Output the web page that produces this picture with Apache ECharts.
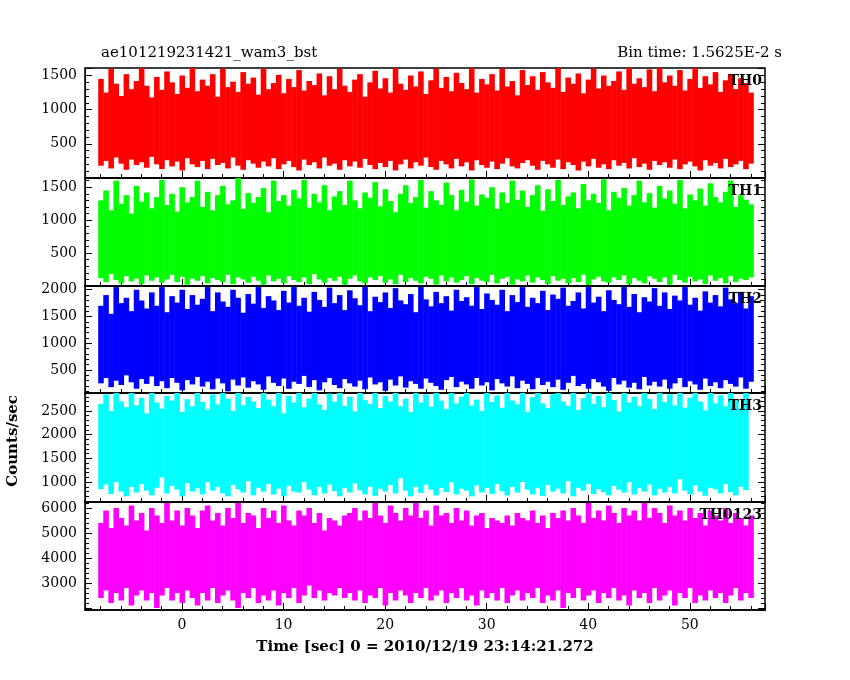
<!DOCTYPE html>
<html><head><meta charset="utf-8">
<script src="https://cdn.jsdelivr.net/npm/echarts@6/dist/echarts.min.js"></script>
<style>body{margin:0;background:#fff}#c{width:850px;height:680px}</style>
</head><body><div id="c"></div>
<script>
// 0.5 s bins from -8 to 56 s: low and high envelope of the counts
var t0 = -8, dt = 0.5;
var names = ['TH0', 'TH1', 'TH2', 'TH3', 'TH0123'];
var colors = ['#ff0000', '#00ff00', '#0000ff', '#00ffff', '#ff00ff'];
var th0Hi = [1450,1250,1600,1380,1200,1520,1300,1420,1610,1350,1180,1480,1290,1560,1400,1230,1500,1320,1610,1270,1440,1350,1520,1190,1600,1330,1410,1260,1550,1380,1470,1220,1600,1300,1390,1510,1240,1450,1330,1580,1280,1420,1360,1530,1210,1490,1300,1600,1350,1260,1440,1520,1190,1400,1570,1310,1460,1250,1610,1380,1290,1500,1340,1560,1230,1430,1600,1320,1480,1270,1540,1390,1300,1610,1250,1450,1370,1520,1280,1600,1340,1420,1210,1580,1360,1490,1290,1550,1400,1320,1610,1260,1470,1380,1530,1240,1440,1600,1310,1500,1350,1420,1560,1290,1610,1380,1460,1330,1590,1270,1610,1400,1500,1350,1580,1280,1450,1610,1320,1490,1370,1550,1260,1430,1520,1300,1460,1390,1250];
var th0Lo = [180,250,140,300,210,120,270,190,230,150,310,200,130,260,170,240,110,290,200,160,250,130,280,190,220,140,300,180,120,260,210,150,240,170,290,130,200,250,160,110,270,190,230,140,300,180,210,120,260,170,240,150,280,190,130,220,160,250,110,200,270,140,230,180,300,160,120,250,200,140,280,170,230,110,260,190,150,240,130,210,290,170,140,220,260,180,120,250,200,150,270,130,230,190,110,240,170,280,150,200,130,260,180,220,140,290,160,210,120,250,190,230,150,270,130,200,240,170,110,260,180,220,140,280,160,200,250,130,210];
var th1Hi = [1300,1450,1150,1600,1250,1380,1100,1520,1280,1420,1180,1350,1610,1230,1400,1130,1500,1270,1350,1600,1200,1430,1150,1380,1520,1240,1300,1640,1170,1410,1260,1350,1490,1120,1600,1290,1380,1220,1460,1330,1610,1190,1400,1270,1530,1150,1360,1440,1230,1600,1300,1180,1420,1340,1580,1210,1470,1290,1120,1400,1530,1260,1350,1610,1190,1440,1300,1230,1570,1380,1150,1460,1280,1620,1220,1390,1340,1500,1170,1420,1260,1600,1310,1450,1200,1380,1530,1140,1470,1290,1610,1230,1360,1420,1180,1550,1300,1400,1260,1620,1150,1430,1340,1490,1220,1380,1600,1270,1410,1190,1520,1330,1450,1250,1610,1180,1390,1300,1480,1220,1560,1350,1270,1430,1600,1200,1380,1310,1240];
var th1Lo = [120,60,180,90,40,150,70,110,30,160,80,130,50,100,170,60,140,20,110,80,150,40,120,90,60,170,30,130,100,50,140,80,20,160,70,110,40,150,90,60,130,30,180,100,50,120,80,140,20,110,160,70,40,130,90,150,50,100,30,170,60,120,80,40,140,110,20,160,70,130,50,90,150,30,120,80,60,170,40,110,140,20,100,70,160,50,130,90,30,150,80,110,40,120,60,170,20,100,140,70,50,130,90,160,30,120,80,40,150,110,60,130,20,170,90,50,140,70,100,30,160,80,120,40,150,60,110,90,130];
var th2Hi = [1700,1900,1550,2050,1750,1850,1600,2000,1800,1650,1950,1700,2050,1580,1880,1760,2000,1640,1900,1720,1830,2050,1600,1950,1780,1680,2000,1850,1570,1920,1740,2050,1660,1880,1800,1620,1980,1760,2050,1700,1850,1590,1960,1810,1680,2040,1750,1900,1620,1990,1840,1710,2050,1600,1870,1770,1950,1660,2030,1800,1730,1920,1580,2050,1820,1690,1960,1750,1880,1610,2000,1790,1860,1700,2050,1640,1930,1810,1720,2000,1600,1900,1770,2050,1680,1850,1750,1980,1620,1910,1830,2040,1700,1790,1950,1650,2050,1760,1870,1600,1990,1810,1730,2050,1680,1920,1580,1860,1780,2030,1700,1950,1640,1890,1800,2050,1720,1850,1610,1970,1760,1900,1690,2040,1820,1750,1960,1650,1880];
var th2Lo = [250,350,180,300,220,400,270,150,330,240,380,200,290,160,350,260,120,310,230,370,190,280,140,340,250,100,320,210,360,170,290,230,130,380,260,200,340,150,280,240,390,180,310,120,270,350,220,160,330,250,190,300,140,360,230,270,110,320,210,380,170,290,240,150,340,260,200,130,310,370,180,280,230,150,350,210,270,120,330,250,190,380,160,300,240,140,350,220,280,180,320,130,260,390,200,240,150,330,270,190,110,350,230,300,170,260,140,370,210,280,190,320,150,250,350,180,290,230,130,340,200,270,160,310,240,190,360,150,280];
var th3Hi = [2650,2850,2500,2880,2700,2580,2880,2620,2780,2450,2880,2680,2550,2820,2720,2880,2480,2750,2600,2880,2690,2530,2850,2640,2880,2760,2500,2880,2620,2800,2700,2560,2880,2740,2600,2880,2450,2820,2680,2880,2580,2760,2880,2640,2520,2870,2700,2880,2610,2800,2490,2880,2730,2650,2880,2560,2820,2700,2880,2600,2760,2480,2880,2680,2850,2590,2880,2720,2540,2880,2660,2800,2880,2610,2740,2500,2880,2690,2830,2570,2880,2720,2640,2880,2480,2790,2880,2660,2560,2850,2880,2700,2610,2880,2520,2770,2880,2650,2820,2580,2880,2730,2490,2880,2680,2800,2600,2880,2750,2540,2880,2690,2850,2620,2880,2570,2780,2880,2700,2510,2880,2660,2830,2600,2880,2740,2550,2880,2680];
var th3Lo = [850,950,750,1000,800,700,900,780,960,820,720,880,1100,760,920,840,700,980,800,870,740,1000,820,900,760,700,940,850,780,1020,720,880,800,960,740,860,700,920,800,780,1000,840,720,900,760,950,810,700,880,780,970,830,740,900,710,860,800,940,760,1080,820,700,900,770,950,840,720,880,790,1000,740,860,820,700,930,780,880,750,960,810,720,900,780,1000,840,740,880,710,940,800,860,760,1020,700,880,820,960,750,850,790,720,920,840,780,1000,740,870,800,950,720,860,780,900,760,1060,820,740,930,800,710,880,850,760,960,790,720,900,830];
var th5Hi = [5400,5900,5200,6000,5600,5300,6100,5500,5800,5100,6000,5700,5400,6200,5500,5900,5300,6000,5700,5200,5900,6100,5500,5800,5300,6000,5600,6200,5400,5800,5700,5200,6000,5600,5900,5400,6100,5500,5300,5900,5700,6000,5400,5800,5100,5600,5500,5300,5700,5800,6000,5500,5900,5600,6200,5700,5400,6100,5800,5500,6000,5700,6200,5600,5900,5300,6100,5700,5800,5400,6000,5500,5900,5300,5700,5800,5200,5600,5500,5400,5700,5300,5800,5600,5500,5900,5400,5700,5200,5800,5600,5900,5500,6000,5700,5400,6200,5600,5900,5500,6100,5800,5400,6000,5700,5900,5500,6200,5600,6000,5800,5400,6100,5700,5900,5500,6000,5600,5800,5300,5900,5700,5500,6000,5400,5800,5600,5300,5700];
var th5Lo = [2400,2700,2200,2600,2300,2800,2100,2500,2700,2300,2600,2000,2500,2800,2300,2600,2200,2700,2400,2100,2600,2300,2800,2200,2500,2700,2300,2000,2600,2400,2800,2200,2500,2300,2700,2100,2600,2400,2800,2200,2500,2900,2400,2700,2300,2600,2500,2800,2400,2600,2300,2700,2200,2500,2400,2800,2100,2600,2300,2700,2500,2200,2600,2400,2800,2300,2500,2700,2200,2600,2400,2800,2300,2500,2100,2700,2400,2600,2300,2800,2200,2500,2700,2300,2600,2400,2800,2200,2500,2300,2700,2000,2600,2400,2800,2300,2500,2700,2200,2600,2400,2800,2300,2500,2100,2700,2400,2600,2200,2800,2300,2500,2700,2100,2600,2400,2800,2200,2500,2300,2700,2400,2600,2200,2500,2800,2300,2600,2400];
var his = [th0Hi, th1Hi, th2Hi, th3Hi, th5Hi];
var los = [th0Lo, th1Lo, th2Lo, th3Lo, th5Lo];
var yMin = [0, 0, 70, 580, 1920];
var yMax = [1610, 1640, 2070, 2880, 6240];
var yMinLabel = [500, 500, 500, 1000, 3000];
var tops = [68, 178, 286, 393, 502];
var bottoms = [178, 286, 393, 502, 610];

var font = '"DejaVu Serif"';
var grids = [], xAxes = [], yAxes = [], series = [];
function renderBin(params, api) {
  var x = api.value(0);
  var a = api.coord([x - dt / 2, api.value(2)]);
  var b = api.coord([x + dt / 2, api.value(1)]);
  return {type: 'rect', shape: {x: a[0], y: b[1], width: b[0] - a[0] + 0.5, height: a[1] - b[1]},
    style: {fill: api.visual('color')}};
}
function plain(v) { return String(v); }
var tick = {inside: true, length: 7, lineStyle: {color: '#000'}};
var minor = {show: true, splitNumber: 5, length: 4, lineStyle: {color: '#000'}};
for (var i = 0; i < 5; i++) {
  grids.push({left: 85, right: 85, top: tops[i], height: bottoms[i] - tops[i], show: true, borderColor: '#000', borderWidth: 1.5});
  var last = i === 4;
  xAxes.push({type: 'value', gridIndex: i, min: -9.55, max: 57.4, splitNumber: 7, position: 'bottom',
    axisLine: {onZero: false, lineStyle: {color: '#000', width: 1.5}}, splitLine: {show: false},
    axisTick: tick, minorTick: minor,
    axisLabel: {show: last, color: '#000', fontFamily: font, fontSize: 14, showMinLabel: false, showMaxLabel: false, formatter: plain},
    name: last ? 'Time [sec] 0 = 2010/12/19 23:14:21.272' : '', nameLocation: 'middle', nameGap: 30,
    nameTextStyle: {color: '#000', fontFamily: font, fontSize: 15, fontWeight: 'bold'}});
  var yOpt = {min: yMin[i], max: yMax[i]};
  if (i === 0) yOpt.interval = 500; else yOpt.splitNumber = 4;
  (function (lowest) {
    yAxes.push(Object.assign({type: 'value', gridIndex: i,
      axisLine: {onZero: false, lineStyle: {color: '#000'}}, splitLine: {show: false},
      axisTick: tick, minorTick: minor,
      axisLabel: {color: '#000', fontFamily: font, fontSize: 14, showMinLabel: false, showMaxLabel: false,
        formatter: function (v) { return v >= lowest ? String(v) : ''; }}}, yOpt));
  })(yMinLabel[i]);
  yAxes.push(Object.assign({type: 'value', gridIndex: i, position: 'right',
    axisLine: {onZero: false, show: false}, splitLine: {show: false}, axisLabel: {show: false},
    axisTick: tick, minorTick: minor}, yOpt));
  var bins = [];
  for (var k = 0; k < his[i].length; k++) bins.push([t0 + k * dt, his[i][k], los[i][k]]);
  series.push({type: 'custom', xAxisIndex: i, yAxisIndex: 2 * i, data: bins, renderItem: renderBin,
    itemStyle: {color: colors[i]}, clip: true, animation: false});
}
var chart = echarts.init(document.getElementById('c'));
chart.setOption({
  backgroundColor: '#fff',
  grid: grids, xAxis: xAxes, yAxis: yAxes, series: series,
  graphic: [
    {type: 'text', left: 101, top: 46, style: {text: 'ae101219231421_wam3_bst', font: '15px ' + font, fill: '#000'}},
    {type: 'text', right: 68, top: 46, style: {text: 'Bin time: 1.5625E-2 s', font: '15px ' + font, fill: '#000'}},
    {type: 'text', left: 6, top: 395, rotation: Math.PI / 2, style: {text: 'Counts/sec', font: 'bold 15px ' + font, fill: '#000'}}
  ].concat(names.map(function (n, i) {
    return {type: 'text', right: 88, top: tops[i] + 6, z: 100, style: {text: n, font: 'bold 14px ' + font, fill: '#000'}};
  }))
});
</script>
</body></html>
